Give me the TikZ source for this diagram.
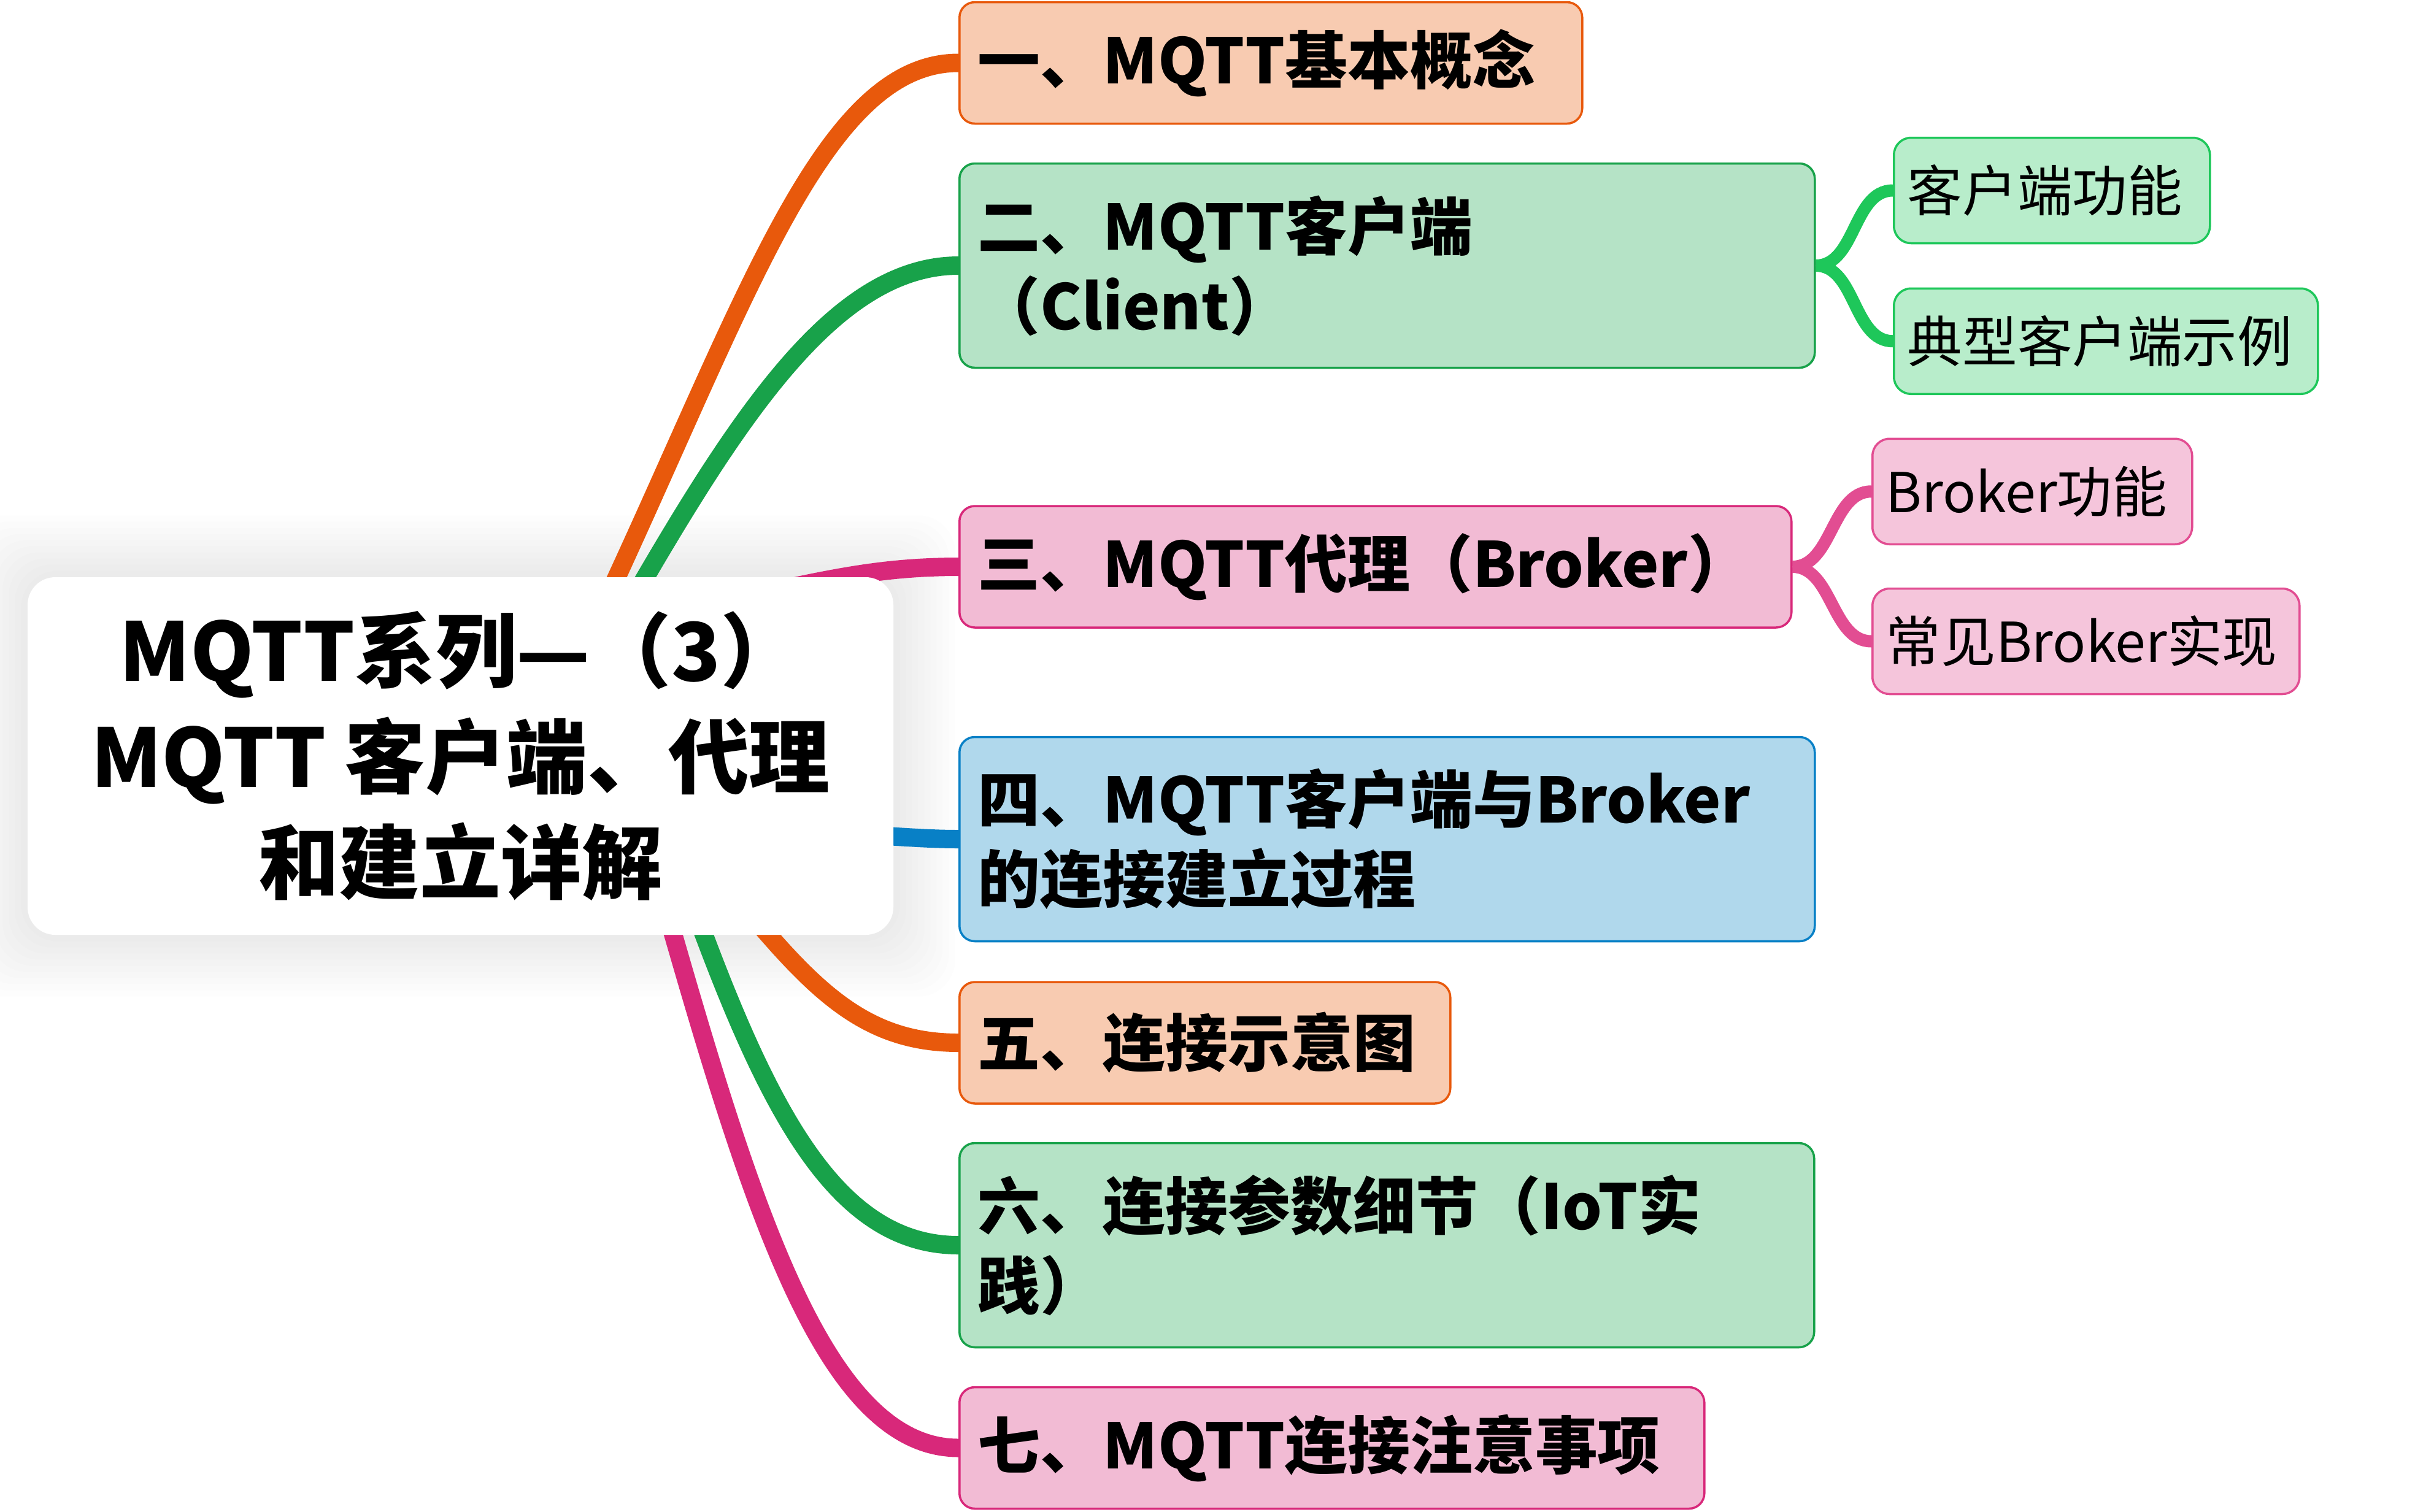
\documentclass[tikz,border=0pt]{standalone}
\usepackage{fontspec}
\setmainfont{Noto Sans CJK SC}
\usetikzlibrary{calc,backgrounds}
\definecolor{mmorange}{HTML}{E8590C}
\definecolor{mmorangefill}{HTML}{F8CBB1}
\definecolor{mmgreen}{HTML}{18A24A}
\definecolor{mmgreenfill}{HTML}{B5E3C6}
\definecolor{mmpink}{HTML}{D8287A}
\definecolor{mmpinkfill}{HTML}{F2BBD4}
\definecolor{mmblue}{HTML}{0880C6}
\definecolor{mmbluefill}{HTML}{B0D8EC}
\definecolor{mmlime}{HTML}{1EC75A}
\definecolor{mmlimefill}{HTML}{B8EDCB}
\definecolor{mmrose}{HTML}{E24D92}
\definecolor{mmrosefill}{HTML}{F5C5DB}

\begin{document}
\begin{tikzpicture}[
  topic/.style={draw, line width=1pt, rounded corners=0.25cm, anchor=west, align=left, inner xsep=0.3cm, inner ysep=0pt, font=\fontsize{29}{37}\selectfont\bfseries},
  subtopic/.style={topic, rounded corners=0.28cm, inner xsep=0.22cm, font=\fontsize{25.5}{31}\selectfont},
  branch/.style={line width=0.3cm},
  twig/.style={line width=0.2cm}
]
  \useasboundingbox (0,0) rectangle (39.36,-24.64);

  % Central topic
  \node[fill=white, rounded corners=0.45cm, minimum width=14.11cm, minimum height=5.83cm, align=center,
    font=\fontsize{37.5}{49}\selectfont\bfseries] (root) at (7.505,-12.325)
    {MQTT系列—（3）\\MQTT 客户端、代理\\和建立详解};

  % Main topics
  \node[topic, fill=mmorangefill, draw=mmorange, text width=9.55cm, minimum height=1.98cm] (basics) at (15.62,-1.025)
    {一、MQTT基本概念};
  \node[topic, fill=mmgreenfill, draw=mmgreen, text width=13.34cm, minimum height=3.33cm] (client) at (15.62,-4.33)
    {二、MQTT客户端\\（Client）};
  \node[topic, fill=mmpinkfill, draw=mmpink, text width=12.96cm, minimum height=1.98cm] (broker) at (15.62,-9.24)
    {三、MQTT代理（Broker）};
  \node[topic, fill=mmbluefill, draw=mmblue, text width=13.34cm, minimum height=3.33cm] (connect) at (15.62,-13.68)
    {四、MQTT客户端与Broker\\的连接建立过程};
  \node[topic, fill=mmorangefill, draw=mmorange, text width=7.4cm, minimum height=1.98cm] (sketch) at (15.62,-17.0)
    {五、连接示意图};
  \node[topic, fill=mmgreenfill, draw=mmgreen, text width=13.33cm, minimum height=3.33cm] (params) at (15.62,-20.30)
    {六、连接参数细节（IoT实\\践）};
  \node[topic, fill=mmpinkfill, draw=mmpink, text width=11.54cm, minimum height=1.98cm] (notes) at (15.62,-23.605)
    {七、MQTT连接注意事项};

  % Subtopics
  \node[subtopic, fill=mmlimefill, draw=mmlime, text width=4.71cm, minimum height=1.72cm] (clientfunc) at (30.85,-3.105)
    {客户端功能};
  \node[subtopic, fill=mmlimefill, draw=mmlime, text width=6.47cm, minimum height=1.72cm] (clientex) at (30.85,-5.5625)
    {典型客户端示例};
  \node[subtopic, fill=mmrosefill, draw=mmrose, text width=4.77cm, minimum height=1.72cm] (brokerfunc) at (30.50,-8.0125)
    {Broker功能};
  \node[subtopic, fill=mmrosefill, draw=mmrose, text width=6.52cm, minimum height=1.72cm] (brokerimpl) at (30.50,-10.455)
    {常见Broker实现};

  \begin{scope}[on background layer]
    % Soft halo round the central topic
    \foreach \r in {0.1,0.2,...,1.0}
      \fill[black, opacity=0.006, rounded corners=0.6cm]
        ($(root.south west)+(-\r,-\r)$) rectangle ($(root.north east)+(\r,\r)$);

    % Branches
    \coordinate (s1) at (9.82,-9.91);
    \coordinate (s2) at (10.24,-9.89);
    \coordinate (s3) at (11.50,-9.85);
    \coordinate (s4) at (13.00,-13.56);
    \coordinate (s5) at (12.14,-14.79);
    \coordinate (s6) at (11.27,-14.69);
    \coordinate (s7) at (10.81,-14.67);
    \draw[branch, mmorange] (s1) .. controls +(65:5.6) and +(-2.2,0) .. (basics.west);
    \draw[branch, mmgreen] (s2) .. controls +(60:3.6) and +(-2.0,0) .. (client.west);
    \draw[branch, mmpink] (s3) .. controls +(10:1.6) and +(-1.6,0) .. (broker.west);
    \draw[branch, mmblue] (s4) .. controls +(0.8,0) and +(-0.8,0) .. (connect.west);
    \draw[branch, mmorange] (s5) .. controls +(-50:1.8) and +(-1.5,0) .. (sketch.west);
    \draw[branch, mmgreen] (s6) .. controls +(-70:3.6) and +(-2.0,0) .. (params.west);
    \draw[branch, mmpink] (s7) .. controls +(-74:5.1) and +(-2.2,0) .. (notes.west);

    % Sub branches
    \draw[twig, mmlime] (client.east) .. controls +(0.65,0) and +(-0.65,0) .. (clientfunc.west);
    \draw[twig, mmlime] (client.east) .. controls +(0.65,0) and +(-0.65,0) .. (clientex.west);
    \draw[twig, mmrose] (broker.east) .. controls +(0.65,0) and +(-0.65,0) .. (brokerfunc.west);
    \draw[twig, mmrose] (broker.east) .. controls +(0.65,0) and +(-0.65,0) .. (brokerimpl.west);
  \end{scope}
\end{tikzpicture}
\end{document}
